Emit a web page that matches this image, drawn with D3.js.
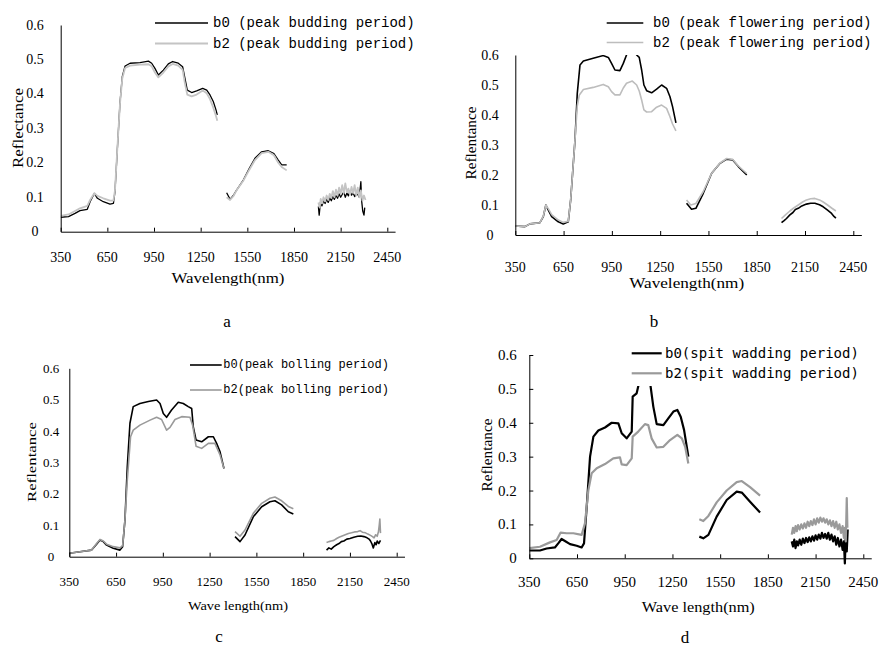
<!DOCTYPE html>
<html>
<head>
<meta charset="utf-8">
<script src="https://cdnjs.cloudflare.com/ajax/libs/d3/7.8.5/d3.min.js"></script>
<style>
  body { margin: 0; background: #fff; }
  svg { display: block; }
</style>
</head>
<body>
<svg width="880" height="649"></svg>
<script>
const xTicks = [350, 650, 950, 1250, 1550, 1850, 2150, 2450];
const yTicks = [0, 0.1, 0.2, 0.3, 0.4, 0.5, 0.6];
const yTickLabels = ['0', '0.1', '0.2', '0.3', '0.4', '0.5', '0.6'];

// panel a - peak budding period (null = gap between bands)
const aB0 = [
  [350,.042],[400,.044],[442,.053],[474,.061],[521,.065],[539,.087],[566,.111],[586,.097],[624,.087],[667,.080],
  [689,.082],[699,.116],[714,.237],[731,.373],[746,.45],[764,.481],[796,.489],[860,.491],[914,.495],[935,.489],
  [956,.474],[978,.455],[1010,.469],[1042,.487],[1070,.494],[1106,.489],[1134,.479],[1149,.445],[1164,.411],
  [1192,.404],[1224,.409],[1263,.416],[1289,.411],[1310,.397],[1331,.378],[1349,.353],[1357,.339],
  null,
  [1417,.113],[1439,.094],[1460,.105],[1481,.121],[1524,.150],[1563,.184],[1599,.213],[1642,.232],[1685,.235],
  [1721,.227],[1749,.208],[1771,.194],[1803,.194],
  null,
  [2007,.073],[2012,.048],[2020,.085],[2030,.075],[2040,.09],[2050,.082],[2060,.095],[2070,.085],[2080,.098],
  [2090,.09],[2100,.102],[2110,.094],[2120,.105],[2130,.097],[2140,.11],[2150,.1],[2160,.108],[2170,.115],
  [2180,.1],[2190,.112],[2200,.104],[2210,.118],[2220,.106],[2230,.113],[2240,.102],[2250,.11],[2260,.108],
  [2270,.1],[2280,.145],[2285,.09],[2292,.06],[2300,.048],[2305,.07]
];
const aB2 = [
  [350,.046],[400,.050],[442,.060],[474,.068],[521,.075],[539,.092],[566,.112],[586,.104],[624,.097],[667,.090],
  [689,.090],[699,.12],[714,.24],[731,.37],[746,.445],[764,.475],[796,.482],[860,.485],[914,.486],[935,.48],
  [956,.462],[978,.448],[1010,.462],[1042,.48],[1070,.487],[1106,.482],[1134,.47],[1149,.43],[1164,.398],
  [1192,.393],[1224,.398],[1263,.41],[1289,.402],[1310,.385],[1331,.36],[1349,.335],[1357,.322],
  null,
  [1417,.100],[1439,.092],[1460,.103],[1481,.12],[1524,.148],[1563,.18],[1599,.208],[1642,.228],[1685,.232],
  [1721,.222],[1749,.2],[1771,.188],[1803,.178],
  null,
  [2007,.085],[2015,.07],[2022,.095],[2030,.082],[2040,.1],[2050,.088],[2060,.105],[2070,.092],[2080,.11],
  [2090,.098],[2100,.118],[2110,.1],[2120,.122],[2130,.105],[2140,.128],[2150,.11],[2160,.135],[2170,.112],
  [2180,.14],[2190,.115],[2200,.125],[2210,.108],[2220,.13],[2230,.112],[2240,.135],[2250,.105],[2260,.128],
  [2270,.1],[2280,.12],[2290,.09],[2300,.105],[2310,.092]
];

// panel b - peak flowering period
const bB0 = [
  [350,.030],[410,.028],[441,.037],[503,.041],[524,.061],[540,.100],[555,.083],[576,.061],[617,.044],[648,.037],
  [679,.044],[694,.117],[706,.206],[721,.317],[735,.472],[752,.567],[773,.580],[834,.589],[896,.598],[928,.592],
  [948,.572],[969,.550],[1000,.548],[1021,.572],[1041,.600],[1060,.625],[1085,.625],[1104,.600],[1120,.592],
  [1135,.55],[1149,.50],[1166,.481],[1197,.474],[1228,.486],[1259,.500],[1290,.489],[1311,.461],[1327,.428],
  [1348,.374],
  null,
  [1414,.106],[1445,.086],[1472,.089],[1518,.139],[1570,.206],[1622,.239],[1663,.253],[1701,.250],[1736,.228],
  [1788,.2],
  null,
  [2004,.041],[2020,.048],[2035,.055],[2056,.067],[2075,.075],[2090,.085],[2108,.089],[2130,.097],[2159,.103],
  [2185,.106],[2211,.106],[2240,.101],[2263,.094],[2290,.083],[2315,.072],[2330,.062],[2342,.056]
];
const bB2 = [
  [350,.030],[410,.028],[441,.037],[503,.041],[524,.063],[540,.100],[555,.088],[576,.068],[617,.05],[648,.042],
  [679,.046],[694,.117],[706,.206],[721,.317],[735,.43],[748,.467],[773,.485],[834,.492],[896,.502],[928,.494],
  [948,.478],[969,.467],[1000,.467],[1021,.49],[1041,.506],[1077,.513],[1104,.5],[1120,.48],[1135,.45],
  [1149,.417],[1166,.41],[1197,.411],[1228,.426],[1259,.433],[1290,.422],[1311,.394],[1327,.37],[1348,.347],
  null,
  [1414,.117],[1440,.100],[1472,.105],[1518,.145],[1570,.206],[1622,.24],[1663,.255],[1701,.252],[1736,.23],
  [1788,.205],
  null,
  [2004,.055],[2030,.068],[2056,.08],[2080,.09],[2108,.1],[2135,.11],[2159,.117],[2185,.121],[2211,.122],
  [2240,.117],[2263,.11],[2290,.1],[2315,.09],[2342,.08]
];

// panel c - peak bolling period
const cB0 = [
  [350,.011],[418,.016],[493,.021],[525,.040],[547,.053],[568,.048],[589,.037],[632,.027],[675,.021],[692,.032],
  [707,.117],[722,.287],[739,.425],[760,.478],[803,.488],[857,.494],[910,.499],[932,.488],[953,.456],[974,.444],
  [1006,.467],[1049,.492],[1081,.488],[1113,.478],[1135,.472],[1145,.414],[1163,.372],[1199,.366],[1242,.382],
  [1274,.382],[1295,.361],[1317,.334],[1342,.281],
  null,
  [1413,.064],[1445,.048],[1477,.069],[1530,.127],[1584,.159],[1637,.175],[1669,.178],[1712,.165],[1755,.143],
  [1787,.136],
  null,
  [2000,.021],[2015,.028],[2030,.024],[2047,.032],[2065,.038],[2080,.042],[2095,.048],[2111,.05],[2130,.056],
  [2150,.058],[2175,.062],[2200,.065],[2220,.066],[2240,.064],[2260,.06],[2275,.055],[2282,.05],[2292,.04],
  [2300,.028],[2310,.045],[2318,.038],[2325,.05],[2335,.042],[2346,.052]
];
const cB2 = [
  [350,.011],[418,.016],[493,.021],[525,.042],[547,.055],[568,.05],[589,.04],[632,.032],[675,.028],[692,.035],
  [707,.117],[722,.244],[743,.382],[760,.403],[803,.419],[868,.435],[910,.444],[942,.437],[974,.403],[996,.412],
  [1028,.437],[1071,.446],[1124,.444],[1141,.419],[1163,.352],[1199,.345],[1242,.361],[1284,.361],[1317,.324],
  [1342,.281],
  null,
  [1413,.08],[1445,.065],[1477,.085],[1530,.138],[1584,.17],[1637,.186],[1669,.19],[1712,.178],[1755,.16],
  [1787,.153],
  null,
  [2000,.045],[2015,.048],[2030,.05],[2047,.052],[2065,.058],[2080,.062],[2100,.066],[2120,.07],[2140,.074],
  [2160,.076],[2180,.079],[2200,.08],[2215,.083],[2230,.078],[2250,.076],[2265,.072],[2282,.068],[2295,.064],
  [2305,.06],[2315,.07],[2325,.065],[2333,.08],[2338,.1],[2342,.12],[2346,.075]
];

// panel d - spit wadding period
const dB0 = [
  [350,.023],[417,.023],[459,.029],[511,.032],[532,.044],[553,.057],[574,.051],[606,.042],[648,.037],[679,.032],
  [694,.044],[711,.152],[732,.30],[753,.359],[784,.377],[826,.386],[868,.400],[910,.398],[931,.369],[962,.354],
  [994,.374],[1000,.477],[1025,.487],[1046,.53],[1065,.56],[1090,.56],[1109,.52],[1130,.447],[1151,.396],
  [1193,.393],[1224,.413],[1256,.433],[1281,.438],[1302,.418],[1323,.379],[1350,.30],
  null,
  [1419,.064],[1444,.059],[1476,.069],[1528,.123],[1591,.172],[1654,.197],[1686,.194],[1738,.167],[1801,.135],
  null,
  [2000,.05],[2008,.035],[2016,.055],[2024,.03],[2032,.05],[2040,.038],[2050,.055],[2060,.04],[2070,.058],
  [2080,.045],[2090,.06],[2100,.048],[2110,.062],[2120,.05],[2130,.065],[2140,.052],[2150,.068],[2160,.055],
  [2170,.07],[2180,.058],[2190,.075],[2200,.06],[2210,.072],[2220,.058],[2230,.075],[2240,.055],[2250,.07],
  [2260,.05],[2270,.065],[2280,.04],[2290,.06],[2300,.035],[2310,.055],[2320,.025],[2328,.05],[2334,-.015],
  [2340,.07],[2346,.02],[2352,.085]
];
const dB2 = [
  [350,.030],[417,.034],[480,.047],[522,.054],[547,.076],[585,.074],[627,.074],[679,.069],[700,.103],[721,.20],
  [742,.251],[774,.266],[826,.278],[878,.295],[920,.298],[931,.277],[962,.275],[994,.295],[1000,.359],[1035,.374],
  [1077,.396],[1098,.393],[1119,.354],[1151,.327],[1193,.329],[1235,.349],[1281,.364],[1309,.354],[1330,.329],
  [1350,.28],
  null,
  [1419,.115],[1444,.11],[1476,.125],[1528,.165],[1591,.2],[1654,.225],[1686,.228],[1738,.21],[1801,.185],
  null,
  [2000,.07],[2008,.09],[2016,.075],[2024,.095],[2032,.08],[2040,.098],[2050,.085],[2060,.1],[2070,.088],
  [2080,.103],[2090,.09],[2100,.108],[2110,.095],[2120,.11],[2130,.098],[2140,.115],[2150,.1],[2160,.118],
  [2170,.105],[2180,.12],[2190,.108],[2200,.118],[2210,.105],[2220,.115],[2230,.1],[2240,.112],[2250,.095],
  [2260,.11],[2270,.09],[2280,.108],[2290,.085],[2300,.1],[2310,.075],[2320,.095],[2328,.06],[2334,.09],
  [2340,.05],[2346,.178],[2350,.09]
];

const legendA = ['b0 (peak budding period)', 'b2 (peak budding period)'];
const legendB = ['b0 (peak flowering period)', 'b2 (peak flowering period)'];
const legendC = ['b0(peak bolling period)', 'b2(peak bolling period)'];
const legendD = ['b0(spit wadding period)', 'b2(spit wadding period)'];

const pixelFont = '"Liberation Serif", "DejaVu Serif", serif';
const monoFont = '"Liberation Mono", monospace';

const panels = [
  { id: 'a', b0: aB0, b2: aB2, legend: legendA, yTitle: 'Reflectance', xTitle: 'Wavelength(nm)',
    x0: 60.7, x1: 387.3, y0: 231.7, y1: 25, yLabX: 35, yLabAnchor: 'middle', xLabY: 257,
    xTitleX: 228, xTitleY: 278, xTitleLen: 113, yTitleX: 18, yTitleY: 128, yTitleLen: 80,
    legX: 155, legLineEnd: 208, legTextX: 213, legY: [23, 43.5], legFont: monoFont, legSize: 14,
    capX: 227, capY: 321, gray: '#c4c4c4', w0: 1.3, w2: 1.8, tickFont: pixelFont, tickSize: 14 },
  { id: 'b', b0: bB0, b2: bB2, legend: legendB, yTitle: 'Reflentance', xTitle: 'Wavelength(nm)',
    x0: 515.3, x1: 853.3, y0: 235, y1: 55, yLabX: 490, yLabAnchor: 'middle', xLabY: 267,
    xTitleX: 686.7, xTitleY: 283, xTitleLen: 115, yTitleX: 471.7, yTitleY: 143, yTitleLen: 73,
    legX: 606.7, legLineEnd: 643.3, legTextX: 653, legY: [23, 42.5], legFont: monoFont, legSize: 14,
    capX: 654, capY: 321, gray: '#bdbdbd', w0: 1.6, w2: 1.6, tickFont: pixelFont, tickSize: 14 },
  { id: 'c', b0: cB0, b2: cB2, legend: legendC, yTitle: 'Reflentance', xTitle: 'Wave length(nm)',
    x0: 69.3, x1: 396.7, y0: 556.7, y1: 368.3, yLabX: 51, yLabAnchor: 'middle', xLabY: 581,
    xTitleX: 238, xTitleY: 605, xTitleLen: 100, yTitleX: 31.7, yTitleY: 462, yTitleLen: 80,
    legX: 190, legLineEnd: 221.7, legTextX: 223.3, legY: [365, 390], legFont: monoFont, legSize: 12,
    capX: 219, capY: 636, gray: '#9a9a9a', w0: 1.6, w2: 1.6, tickFont: pixelFont, tickSize: 13 },
  { id: 'd', b0: dB0, b2: dB2, legend: legendD, yTitle: 'Reflentance', xTitle: 'Wave length(nm)',
    x0: 529.3, x1: 863.3, y0: 558.3, y1: 355, yLabX: 516.7, yLabAnchor: 'end', xLabY: 582,
    xTitleX: 698.3, xTitleY: 607, xTitleLen: 113, yTitleX: 486.7, yTitleY: 455, yTitleLen: 73,
    legX: 631.7, legLineEnd: 661.7, legTextX: 665, legY: [353.3, 373.3], legFont: '"DejaVu Sans Mono", monospace', legSize: 14,
    capX: 685, capY: 637, gray: '#9a9a9a', w0: 2.2, w2: 2.2, tickFont: '"Liberation Serif", serif', tickSize: 15,
    legendBox: [628, 342, 236, 44], yInnerTicks: true }
];

const svg = d3.select('svg');

function drawPanel(p) {
  const xEnd = p.x0 + (p.x1 - p.x0) * (2500 - 350) / 2100;
  const x = d3.scaleLinear().domain([350, 2500]).range([p.x0, xEnd]);
  const y = d3.scaleLinear().domain([0, 0.6]).range([p.y0, p.y1]);
  const g = svg.append('g').attr('class', 'panel-' + p.id);

  g.append('clipPath').attr('id', 'clip-' + p.id)
    .append('rect')
    .attr('x', p.x0).attr('y', p.y1)
    .attr('width', xEnd - p.x0).attr('height', p.y0 - p.y1 + 8);

  const line = d3.line()
    .defined(d => d !== null)
    .x(d => x(d[0]))
    .y(d => y(d[1]));

  const plot = g.append('g').attr('clip-path', 'url(#clip-' + p.id + ')');
  plot.append('path').datum(p.b0)
    .attr('d', line).attr('fill', 'none')
    .attr('stroke', '#000').attr('stroke-width', p.w0).attr('stroke-linejoin', 'round');
  plot.append('path').datum(p.b2)
    .attr('d', line).attr('fill', 'none')
    .attr('stroke', p.gray).attr('stroke-width', p.w2).attr('stroke-linejoin', 'round');

  // axes
  g.append('g')
    .attr('transform', `translate(0,${p.y0})`)
    .call(d3.axisBottom(x).tickValues(xTicks).tickSizeInner(-4).tickSizeOuter(0).tickFormat(''))
    .call(a => a.select('.domain').attr('stroke', '#000'))
    .call(a => a.selectAll('line').attr('stroke', '#000'));

  g.append('g')
    .attr('transform', `translate(${p.x0},0)`)
    .call(d3.axisLeft(y).tickValues(yTicks).tickSizeInner(p.yInnerTicks ? -4 : 0).tickSizeOuter(0).tickFormat(''))
    .call(a => a.select('.domain').attr('stroke', '#000'))
    .call(a => a.selectAll('line').attr('stroke', '#000'));

  g.selectAll('.xlab').data(xTicks).join('text')
    .attr('x', d => x(d)).attr('y', p.xLabY)
    .attr('text-anchor', 'middle').attr('dominant-baseline', 'central')
    .attr('font-family', p.tickFont).attr('font-size', p.tickSize)
    .text(d => d);

  g.selectAll('.ylab').data(yTicks).join('text')
    .attr('x', p.yLabX).attr('y', d => y(d))
    .attr('text-anchor', p.yLabAnchor).attr('dominant-baseline', 'central')
    .attr('font-family', p.tickFont).attr('font-size', p.tickSize)
    .text((d, i) => yTickLabels[i]);

  g.append('text')
    .attr('x', p.xTitleX).attr('y', p.xTitleY)
    .attr('text-anchor', 'middle').attr('dominant-baseline', 'central')
    .attr('font-family', p.tickFont).attr('font-size', p.tickSize)
    .attr('textLength', p.xTitleLen).attr('lengthAdjust', 'spacingAndGlyphs')
    .text(p.xTitle);

  g.append('text')
    .attr('transform', `translate(${p.yTitleX},${p.yTitleY}) rotate(-90)`)
    .attr('text-anchor', 'middle').attr('dominant-baseline', 'central')
    .attr('font-family', p.tickFont).attr('font-size', p.tickSize)
    .attr('textLength', p.yTitleLen).attr('lengthAdjust', 'spacingAndGlyphs')
    .text(p.yTitle);

  // legend
  const leg = g.append('g');
  if (p.legendBox) {
    const [bx, by, bw, bh] = p.legendBox;
    g.append('clipPath').attr('id', 'legclip-' + p.id)
      .append('rect').attr('x', bx).attr('y', by).attr('width', bw).attr('height', bh);
    leg.attr('clip-path', 'url(#legclip-' + p.id + ')');
    leg.append('rect').attr('x', bx).attr('y', by).attr('width', bw).attr('height', bh).attr('fill', '#fff');
  }
  [['#000', p.w0], [p.gray, p.w2]].forEach(([col, w], i) => {
    leg.append('line')
      .attr('x1', p.legX).attr('x2', p.legLineEnd)
      .attr('y1', p.legY[i]).attr('y2', p.legY[i])
      .attr('stroke', col).attr('stroke-width', w);
    leg.append('text')
      .attr('x', p.legTextX).attr('y', p.legY[i])
      .attr('dominant-baseline', 'central')
      .attr('font-family', p.legFont).attr('font-size', p.legSize)
      .text(p.legend[i]);
  });

  g.append('text')
    .attr('x', p.capX).attr('y', p.capY)
    .attr('text-anchor', 'middle').attr('dominant-baseline', 'central')
    .attr('font-family', '"Liberation Serif", serif').attr('font-size', 17)
    .text(p.id);
}

panels.forEach(drawPanel);
</script>
</body>
</html>
